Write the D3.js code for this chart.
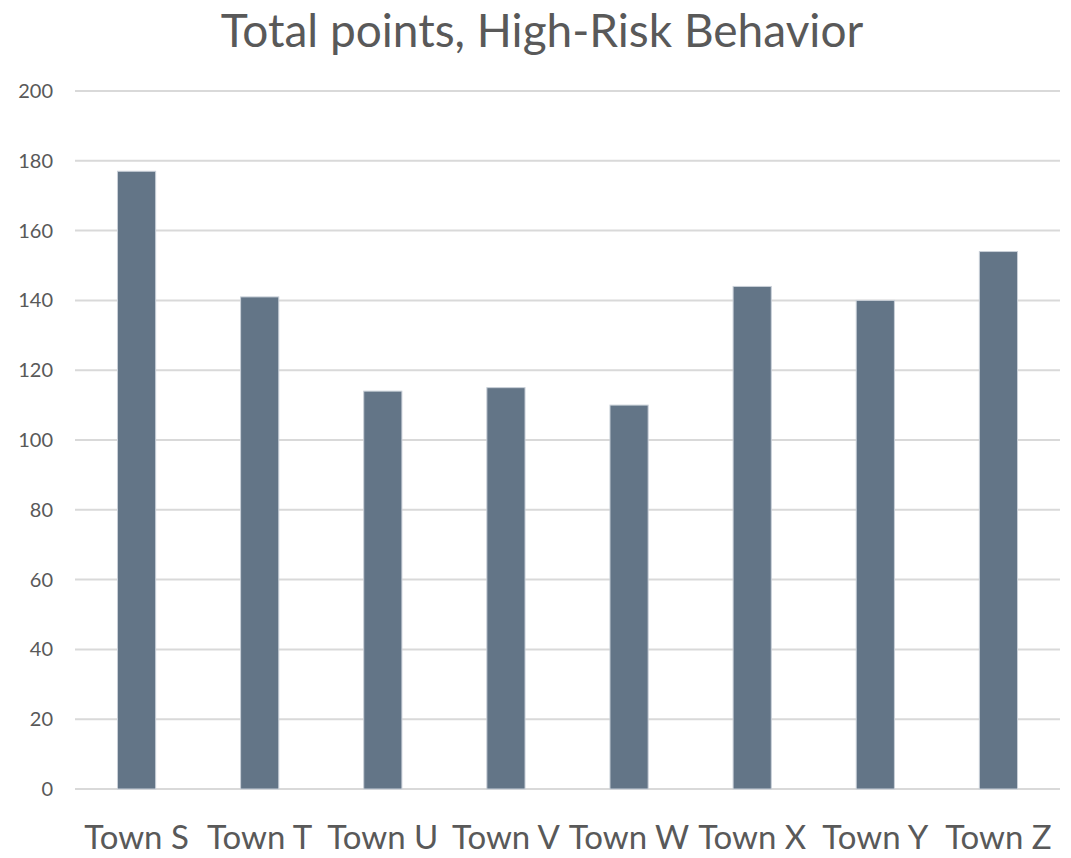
<!DOCTYPE html>
<html>
<head>
<meta charset="utf-8">
<script src="https://cdn.jsdelivr.net/npm/d3@7"></script>
<style>
  body { margin: 0; background: #fff; }
  text { font-family: Lato, "Open Sans", sans-serif; }
</style>
</head>
<body>
<div id="chart"></div>
<script>
// data
var towns = ["Town S", "Town T", "Town U", "Town V", "Town W", "Town X", "Town Y", "Town Z"];
var points = [177, 141, 114, 115, 110, 144, 140, 154];
var yTicks = [0, 20, 40, 60, 80, 100, 120, 140, 160, 180, 200];

var W = 1071, H = 858;
var margin = {top: 91, right: 11, bottom: 69, left: 75},
    width = W - margin.left - margin.right,
    height = H - margin.top - margin.bottom;

var svg = d3.select("#chart")
  .append("svg")
    .attr("width", W)
    .attr("height", H);

var g = svg.append("g")
    .attr("transform", "translate(" + margin.left + "," + margin.top + ")");

var x = d3.scaleBand()
    .domain(towns)
    .range([0, width])
    .paddingInner(0.69)
    .paddingOuter(0.345);

var y = d3.scaleLinear()
    .domain([0, 200])
    .range([height, 0]);

// gridlines
g.selectAll(".grid")
    .data(yTicks)
  .enter().append("line")
    .attr("x1", 0)
    .attr("x2", width)
    .attr("y1", function(d) { return y(d); })
    .attr("y2", function(d) { return y(d); })
    .attr("stroke", "#d9d9d9")
    .attr("stroke-width", 2);

// y axis labels
var yAxis = g.append("g")
    .call(d3.axisLeft(y).tickValues(yTicks).tickSize(0).tickPadding(22));
yAxis.select(".domain").remove();
yAxis.selectAll("text")
    .attr("font-size", "20px")
    .attr("fill", "#595959");

// bars
g.selectAll(".bar")
    .data(points)
  .enter().append("rect")
    .attr("x", function(d, i) { return x(towns[i]); })
    .attr("y", function(d) { return y(d); })
    .attr("width", x.bandwidth())
    .attr("height", function(d) { return height - y(d); })
    .attr("fill", "#637587")
    .attr("stroke", "#c9d0d8")
    .attr("stroke-width", 1);

// x axis labels
var xAxis = g.append("g")
    .attr("transform", "translate(0," + height + ")")
    .call(d3.axisBottom(x).tickSize(0).tickPadding(37));
xAxis.select(".domain").remove();
xAxis.selectAll("text")
    .attr("font-size", "33px")
    .attr("fill", "#595959");

// title
svg.append("text")
    .attr("x", 542)
    .attr("y", 47)
    .attr("text-anchor", "middle")
    .attr("font-size", "46px")
    .attr("fill", "#595959")
    .text("Total points, High-Risk Behavior");
</script>
</body>
</html>
